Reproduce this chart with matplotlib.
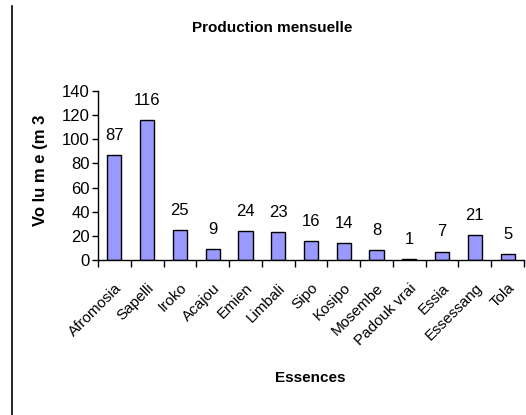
import matplotlib
matplotlib.use("Agg")
import matplotlib.pyplot as plt
from matplotlib.lines import Line2D
import numpy as np

essences = ["Afromosia", "Sapelli", "Iroko", "Acajou", "Emien", "Limbali", "Sipo",
            "Kosipo", "Mosembe", "Padouk vrai", "Essia", "Essessang", "Tola"]
volumes = [87, 116, 25, 9, 24, 23, 16, 14, 8, 1, 7, 21, 5]
yticks = [0, 20, 40, 60, 80, 100, 120, 140]

plt.rcParams['font.family'] = ['Liberation Sans', 'DejaVu Sans']

fig = plt.figure(figsize=(5.26, 4.15), dpi=100)
ax = fig.add_axes([98 / 526, 1 - 260 / 415, 426 / 526, 169 / 415])

x = np.arange(len(essences))
ax.bar(x, volumes, width=0.43, color="#9999FF", edgecolor="black", linewidth=1)
for xi, v in zip(x, volumes):
    ax.text(xi, v + 10, str(v), ha="center", va="bottom", fontsize=12)

ax.set_xlim(-0.5, len(essences) - 0.5)
ax.set_ylim(0, 140)
ax.set_yticks(yticks)
ax.tick_params(axis="y", labelsize=12, length=4, width=1, direction="out", pad=2)

ax.set_xticks(x)
ax.set_xticklabels(essences, rotation=45, ha="right", rotation_mode="anchor", fontsize=11)
ax.tick_params(axis="x", length=0, pad=15)
ax.set_xticks(np.arange(len(essences) + 1) - 0.5, minor=True)
ax.tick_params(axis="x", which="minor", length=5, width=1, direction="out")

for s in ["top", "right"]:
    ax.spines[s].set_visible(False)
ax.spines["left"].set_linewidth(1)
ax.spines["bottom"].set_linewidth(1)

fig.text(272 / 526, 1 - 28 / 415, "Production mensuelle", ha="center", va="center",
         fontsize=11, fontweight="bold")
fig.text(40 / 526, 1 - 170 / 415, "Vo lu m e (m 3", ha="center", va="center",
         rotation=90, fontsize=12, fontweight="bold")
fig.text(310 / 526, 1 - 378 / 415, "Essences", ha="center", va="center",
         fontsize=11, fontweight="bold")

fig.add_artist(Line2D([12 / 526, 12 / 526], [0, 1 - 6 / 415], color="black", linewidth=1.2))

fig.savefig("out.png", dpi=100)
